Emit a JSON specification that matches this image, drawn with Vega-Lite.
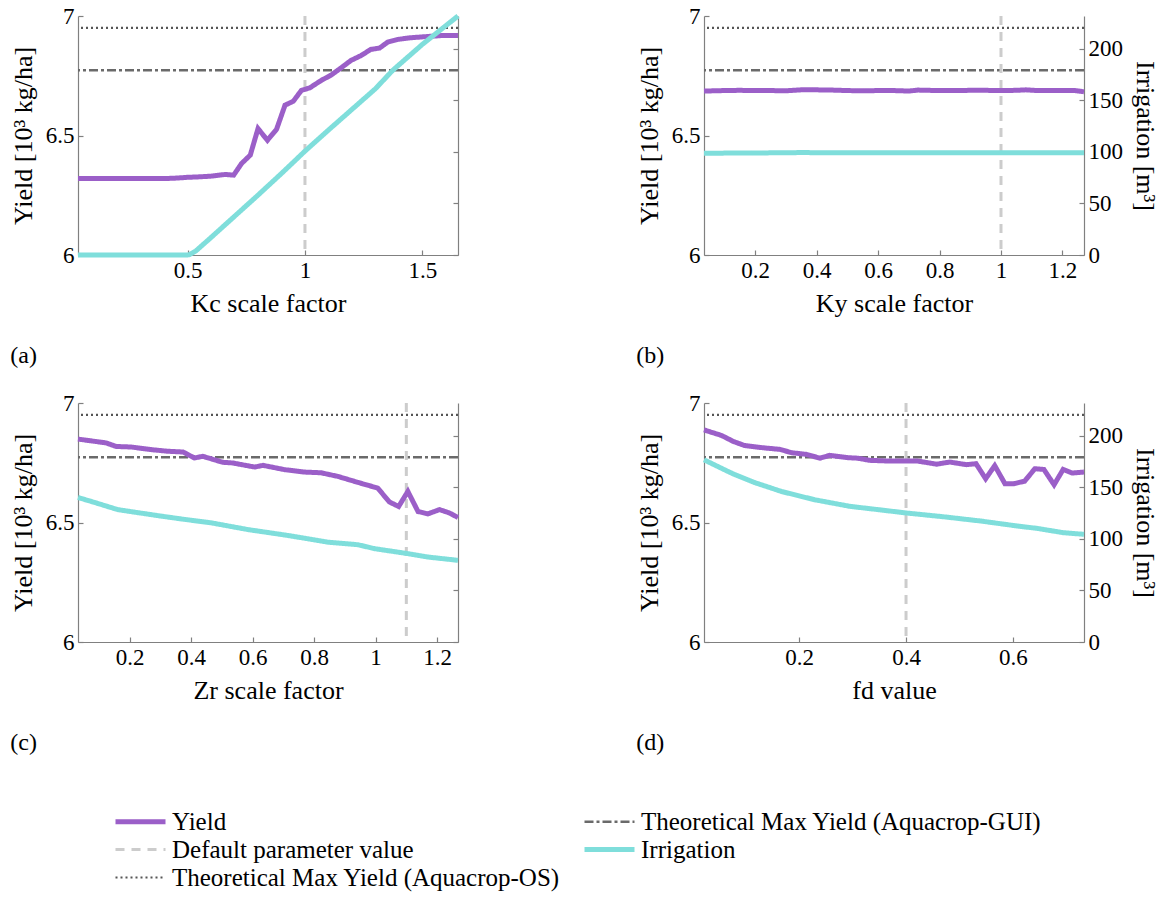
{
  "$schema": "https://vega.github.io/schema/vega-lite/v6.json",
  "background": "white",
  "padding": {"left": 10, "top": 5, "right": 2, "bottom": 5},
  "config": {
    "font": "Liberation Serif",
    "view": {"stroke": null},
    "axis": {
      "labelFont": "Liberation Serif", "titleFont": "Liberation Serif",
      "labelFontSize": 23, "titleFontSize": 26, "titleFontWeight": "normal",
      "labelColor": "black", "titleColor": "black",
      "domainColor": "#808080", "tickColor": "#808080", "domainWidth": 1.2, "tickWidth": 1.2,
      "tickSize": -5, "labelPadding": 9, "grid": false, "titlePadding": 9
    },
    "axisX": {"titlePadding": 8},
    "title": {"font": "Liberation Serif", "fontSize": 24, "fontWeight": "normal", "color": "black"}
  },
  "data": {"values": [
    {"p":"a","s":"Yield","x":0.033,"v":6.320},{"p":"a","s":"Yield","x":0.1,"v":6.320},{"p":"a","s":"Yield","x":0.2,"v":6.320},{"p":"a","s":"Yield","x":0.3,"v":6.320},{"p":"a","s":"Yield","x":0.4,"v":6.320},{"p":"a","s":"Yield","x":0.44,"v":6.321},{"p":"a","s":"Yield","x":0.5,"v":6.325},{"p":"a","s":"Yield","x":0.55,"v":6.327},{"p":"a","s":"Yield","x":0.6,"v":6.330},{"p":"a","s":"Yield","x":0.66,"v":6.337},{"p":"a","s":"Yield","x":0.696,"v":6.334},{"p":"a","s":"Yield","x":0.73,"v":6.383},{"p":"a","s":"Yield","x":0.767,"v":6.418},{"p":"a","s":"Yield","x":0.8,"v":6.529},{"p":"a","s":"Yield","x":0.84,"v":6.48},{"p":"a","s":"Yield","x":0.879,"v":6.526},{"p":"a","s":"Yield","x":0.915,"v":6.627},{"p":"a","s":"Yield","x":0.95,"v":6.643},{"p":"a","s":"Yield","x":0.985,"v":6.689},{"p":"a","s":"Yield","x":1.02,"v":6.699},{"p":"a","s":"Yield","x":1.07,"v":6.731},{"p":"a","s":"Yield","x":1.11,"v":6.752},{"p":"a","s":"Yield","x":1.154,"v":6.783},{"p":"a","s":"Yield","x":1.196,"v":6.814},{"p":"a","s":"Yield","x":1.24,"v":6.835},{"p":"a","s":"Yield","x":1.28,"v":6.86},{"p":"a","s":"Yield","x":1.318,"v":6.866},{"p":"a","s":"Yield","x":1.353,"v":6.891},{"p":"a","s":"Yield","x":1.395,"v":6.902},{"p":"a","s":"Yield","x":1.45,"v":6.909},{"p":"a","s":"Yield","x":1.52,"v":6.914},{"p":"a","s":"Yield","x":1.58,"v":6.918},{"p":"a","s":"Yield","x":1.652,"v":6.918},
    {"p":"a","s":"Irrigation","x":0.033,"v":0},{"p":"a","s":"Irrigation","x":0.3,"v":0},{"p":"a","s":"Irrigation","x":0.5,"v":0},{"p":"a","s":"Irrigation","x":0.51,"v":0.5},{"p":"a","s":"Irrigation","x":0.535,"v":3.9},{"p":"a","s":"Irrigation","x":0.6,"v":17},{"p":"a","s":"Irrigation","x":0.7,"v":37.5},{"p":"a","s":"Irrigation","x":0.8,"v":58},{"p":"a","s":"Irrigation","x":0.9,"v":79},{"p":"a","s":"Irrigation","x":1.0,"v":100.6},{"p":"a","s":"Irrigation","x":1.1,"v":121},{"p":"a","s":"Irrigation","x":1.2,"v":141},{"p":"a","s":"Irrigation","x":1.3,"v":161},{"p":"a","s":"Irrigation","x":1.374,"v":178.9},{"p":"a","s":"Irrigation","x":1.5,"v":204},{"p":"a","s":"Irrigation","x":1.652,"v":231.5},
    {"p":"a","s":"Theoretical Max Yield (Aquacrop-OS)","v":6.95},{"p":"a","s":"Theoretical Max Yield (Aquacrop-GUI)","v":6.773},{"p":"a","s":"Default parameter value","x":1.0},
    {"p":"b","s":"Yield","x":0.034,"v":6.686},{"p":"b","s":"Yield","x":0.1,"v":6.688},{"p":"b","s":"Yield","x":0.15,"v":6.689},{"p":"b","s":"Yield","x":0.2,"v":6.688},{"p":"b","s":"Yield","x":0.25,"v":6.688},{"p":"b","s":"Yield","x":0.3,"v":6.687},{"p":"b","s":"Yield","x":0.35,"v":6.691},{"p":"b","s":"Yield","x":0.4,"v":6.691},{"p":"b","s":"Yield","x":0.45,"v":6.690},{"p":"b","s":"Yield","x":0.5,"v":6.688},{"p":"b","s":"Yield","x":0.55,"v":6.687},{"p":"b","s":"Yield","x":0.6,"v":6.688},{"p":"b","s":"Yield","x":0.65,"v":6.688},{"p":"b","s":"Yield","x":0.7,"v":6.686},{"p":"b","s":"Yield","x":0.73,"v":6.690},{"p":"b","s":"Yield","x":0.8,"v":6.688},{"p":"b","s":"Yield","x":0.85,"v":6.688},{"p":"b","s":"Yield","x":0.9,"v":6.689},{"p":"b","s":"Yield","x":0.95,"v":6.689},{"p":"b","s":"Yield","x":1.0,"v":6.688},{"p":"b","s":"Yield","x":1.05,"v":6.689},{"p":"b","s":"Yield","x":1.08,"v":6.691},{"p":"b","s":"Yield","x":1.12,"v":6.688},{"p":"b","s":"Yield","x":1.2,"v":6.688},{"p":"b","s":"Yield","x":1.24,"v":6.688},{"p":"b","s":"Yield","x":1.27,"v":6.683},
    {"p":"b","s":"Irrigation","x":0.034,"v":98.6},{"p":"b","s":"Irrigation","x":0.2,"v":98.8},{"p":"b","s":"Irrigation","x":0.35,"v":99.2},{"p":"b","s":"Irrigation","x":0.5,"v":99.0},{"p":"b","s":"Irrigation","x":0.7,"v":99.0},{"p":"b","s":"Irrigation","x":0.9,"v":99.0},{"p":"b","s":"Irrigation","x":1.1,"v":99.0},{"p":"b","s":"Irrigation","x":1.27,"v":99.0},
    {"p":"b","s":"Theoretical Max Yield (Aquacrop-OS)","v":6.95},{"p":"b","s":"Theoretical Max Yield (Aquacrop-GUI)","v":6.773},{"p":"b","s":"Default parameter value","x":1.0},
    {"p":"c","s":"Yield","x":0.0325,"v":6.849},{"p":"c","s":"Yield","x":0.124,"v":6.833},{"p":"c","s":"Yield","x":0.157,"v":6.818},{"p":"c","s":"Yield","x":0.205,"v":6.816},{"p":"c","s":"Yield","x":0.27,"v":6.805},{"p":"c","s":"Yield","x":0.325,"v":6.798},{"p":"c","s":"Yield","x":0.374,"v":6.795},{"p":"c","s":"Yield","x":0.411,"v":6.77},{"p":"c","s":"Yield","x":0.438,"v":6.777},{"p":"c","s":"Yield","x":0.503,"v":6.752},{"p":"c","s":"Yield","x":0.536,"v":6.749},{"p":"c","s":"Yield","x":0.607,"v":6.732},{"p":"c","s":"Yield","x":0.634,"v":6.739},{"p":"c","s":"Yield","x":0.705,"v":6.721},{"p":"c","s":"Yield","x":0.769,"v":6.711},{"p":"c","s":"Yield","x":0.823,"v":6.708},{"p":"c","s":"Yield","x":0.877,"v":6.693},{"p":"c","s":"Yield","x":0.942,"v":6.668},{"p":"c","s":"Yield","x":1.007,"v":6.644},{"p":"c","s":"Yield","x":1.045,"v":6.586},{"p":"c","s":"Yield","x":1.075,"v":6.567},{"p":"c","s":"Yield","x":1.105,"v":6.63},{"p":"c","s":"Yield","x":1.138,"v":6.546},{"p":"c","s":"Yield","x":1.17,"v":6.536},{"p":"c","s":"Yield","x":1.208,"v":6.554},{"p":"c","s":"Yield","x":1.24,"v":6.54},{"p":"c","s":"Yield","x":1.268,"v":6.521},
    {"p":"c","s":"Irrigation","x":0.0325,"v":140},{"p":"c","s":"Irrigation","x":0.086,"v":135.2},{"p":"c","s":"Irrigation","x":0.162,"v":128.2},{"p":"c","s":"Irrigation","x":0.292,"v":122.4},{"p":"c","s":"Irrigation","x":0.368,"v":119.2},{"p":"c","s":"Irrigation","x":0.466,"v":115.4},{"p":"c","s":"Irrigation","x":0.585,"v":108.9},{"p":"c","s":"Irrigation","x":0.715,"v":103.2},{"p":"c","s":"Irrigation","x":0.845,"v":96.7},{"p":"c","s":"Irrigation","x":0.943,"v":94.2},{"p":"c","s":"Irrigation","x":0.997,"v":90.4},{"p":"c","s":"Irrigation","x":1.105,"v":85.6},{"p":"c","s":"Irrigation","x":1.17,"v":82.3},{"p":"c","s":"Irrigation","x":1.268,"v":79.1},
    {"p":"c","s":"Theoretical Max Yield (Aquacrop-OS)","v":6.95},{"p":"c","s":"Theoretical Max Yield (Aquacrop-GUI)","v":6.773},{"p":"c","s":"Default parameter value","x":1.1},
    {"p":"d","s":"Yield","x":0.022,"v":6.8875},{"p":"d","s":"Yield","x":0.055,"v":6.864},{"p":"d","s":"Yield","x":0.077,"v":6.839},{"p":"d","s":"Yield","x":0.098,"v":6.822},{"p":"d","s":"Yield","x":0.133,"v":6.8125},{"p":"d","s":"Yield","x":0.164,"v":6.806},{"p":"d","s":"Yield","x":0.186,"v":6.792},{"p":"d","s":"Yield","x":0.214,"v":6.785},{"p":"d","s":"Yield","x":0.239,"v":6.769},{"p":"d","s":"Yield","x":0.257,"v":6.781},{"p":"d","s":"Yield","x":0.292,"v":6.771},{"p":"d","s":"Yield","x":0.31,"v":6.769},{"p":"d","s":"Yield","x":0.332,"v":6.76},{"p":"d","s":"Yield","x":0.369,"v":6.757},{"p":"d","s":"Yield","x":0.422,"v":6.757},{"p":"d","s":"Yield","x":0.457,"v":6.744},{"p":"d","s":"Yield","x":0.482,"v":6.753},{"p":"d","s":"Yield","x":0.513,"v":6.742},{"p":"d","s":"Yield","x":0.531,"v":6.746},{"p":"d","s":"Yield","x":0.549,"v":6.683},{"p":"d","s":"Yield","x":0.566,"v":6.738},{"p":"d","s":"Yield","x":0.585,"v":6.6625},{"p":"d","s":"Yield","x":0.602,"v":6.6625},{"p":"d","s":"Yield","x":0.622,"v":6.673},{"p":"d","s":"Yield","x":0.641,"v":6.725},{"p":"d","s":"Yield","x":0.658,"v":6.722},{"p":"d","s":"Yield","x":0.677,"v":6.658},{"p":"d","s":"Yield","x":0.694,"v":6.722},{"p":"d","s":"Yield","x":0.711,"v":6.707},{"p":"d","s":"Yield","x":0.733,"v":6.711},
    {"p":"d","s":"Irrigation","x":0.022,"v":176.5},{"p":"d","s":"Irrigation","x":0.049,"v":169.7},{"p":"d","s":"Irrigation","x":0.077,"v":162.7},{"p":"d","s":"Irrigation","x":0.117,"v":154.4},{"p":"d","s":"Irrigation","x":0.167,"v":145.8},{"p":"d","s":"Irrigation","x":0.229,"v":137.8},{"p":"d","s":"Irrigation","x":0.295,"v":131.4},{"p":"d","s":"Irrigation","x":0.348,"v":128.2},{"p":"d","s":"Irrigation","x":0.4,"v":125},{"p":"d","s":"Irrigation","x":0.472,"v":121.2},{"p":"d","s":"Irrigation","x":0.541,"v":117.1},{"p":"d","s":"Irrigation","x":0.609,"v":112.3},{"p":"d","s":"Irrigation","x":0.646,"v":110},{"p":"d","s":"Irrigation","x":0.694,"v":105.9},{"p":"d","s":"Irrigation","x":0.733,"v":104.3},
    {"p":"d","s":"Theoretical Max Yield (Aquacrop-OS)","v":6.95},{"p":"d","s":"Theoretical Max Yield (Aquacrop-GUI)","v":6.773},{"p":"d","s":"Default parameter value","x":0.4}
  ]},
  "spacing": 24,
  "vconcat": [
    {"spacing": 168, "hconcat": [
      {"width": 380, "height": 239,
       "title": {"text": "(a)", "orient": "bottom", "anchor": "start", "frame": "bounds", "offset": 28},
       "transform": [{"filter": "datum.p === 'a'"}],
       "encoding": {
         "color": {"field": "s", "type": "nominal", "scale": {"domain": ["Yield", "Default parameter value", "Theoretical Max Yield (Aquacrop-OS)", "Theoretical Max Yield (Aquacrop-GUI)", "Irrigation"], "range": ["#9B5FC8", "#cccccc", "#555555", "#6a6a6a", "#7FDEDB"]},
           "legend": {"orient": "none", "legendX": 35, "legendY": 793, "columns": 2, "title": null, "symbolType": "M-5,0H5", "symbolSize": 100, "symbolOffset": 15, "labelFont": "Liberation Serif", "labelFontSize": 25, "labelColor": "black", "labelLimit": 0, "columnPadding": 13, "rowPadding": 2, "labelOffset": 19, "gridAlign": "each"}},
         "strokeDash": {"field": "s", "type": "nominal", "scale": {"domain": ["Yield", "Default parameter value", "Theoretical Max Yield (Aquacrop-OS)", "Theoretical Max Yield (Aquacrop-GUI)", "Irrigation"], "range": [[1, 0], [9, 7], [2, 3], [9, 3, 3, 3], [1, 0]]}},
         "strokeWidth": {"field": "s", "type": "nominal", "scale": {"type": "ordinal", "domain": ["Yield", "Default parameter value", "Theoretical Max Yield (Aquacrop-OS)", "Theoretical Max Yield (Aquacrop-GUI)", "Irrigation"], "range": [5, 3, 2.2, 2.5, 5]}}
       },
       "layer": [
         {"layer": [
           {"transform": [{"filter": "datum.s === 'Theoretical Max Yield (Aquacrop-OS)' || datum.s === 'Theoretical Max Yield (Aquacrop-GUI)'"}], "mark": "rule",
            "encoding": {"y": {"field": "v", "type": "quantitative", "scale": {"domain": [6, 7], "nice": false, "zero": false}, "axis": {"values": [6, 6.5, 7], "format": "~g", "title": "Yield [10³ kg/ha]"}}}},
           {"transform": [{"filter": "datum.s === 'Default parameter value'"}], "mark": "rule",
            "encoding": {"x": {"field": "x", "type": "quantitative", "scale": {"domain": [0.033, 1.652], "nice": false, "zero": false}, "axis": {"values": [0.5, 1, 1.5], "format": "~g", "title": "Kc scale factor"}}}},
           {"transform": [{"filter": "datum.s === 'Yield'"}], "mark": "line",
            "encoding": {"x": {"field": "x", "type": "quantitative", "scale": {"domain": [0.033, 1.652], "nice": false, "zero": false}, "axis": {"values": [0.5, 1, 1.5], "format": "~g", "title": "Kc scale factor"}},
              "y": {"field": "v", "type": "quantitative", "scale": {"domain": [6, 7], "nice": false, "zero": false}, "axis": {"values": [6, 6.5, 7], "format": "~g", "title": "Yield [10³ kg/ha]"}}}}
         ]},
         {"transform": [{"filter": "datum.s === 'Irrigation'"}], "mark": "line",
          "encoding": {"x": {"field": "x", "type": "quantitative", "scale": {"domain": [0.033, 1.652], "nice": false, "zero": false}, "axis": {"values": [0.5, 1, 1.5], "format": "~g", "title": "Kc scale factor"}},
            "y": {"field": "v", "type": "quantitative", "scale": {"domain": [0, 231.5], "nice": false}, "axis": {"orient": "right", "values": [0, 50, 100, 150, 200], "labels": false, "title": null}}}}
       ],
       "resolve": {"scale": {"y": "independent"}}
      },
      {"width": 380, "height": 239,
       "title": {"text": "(b)", "orient": "bottom", "anchor": "start", "frame": "bounds", "offset": 28},
       "transform": [{"filter": "datum.p === 'b'"}],
       "encoding": {
         "color": {"field": "s", "type": "nominal", "scale": {"domain": ["Yield", "Default parameter value", "Theoretical Max Yield (Aquacrop-OS)", "Theoretical Max Yield (Aquacrop-GUI)", "Irrigation"], "range": ["#9B5FC8", "#cccccc", "#555555", "#6a6a6a", "#7FDEDB"]}},
         "strokeDash": {"field": "s", "type": "nominal", "scale": {"domain": ["Yield", "Default parameter value", "Theoretical Max Yield (Aquacrop-OS)", "Theoretical Max Yield (Aquacrop-GUI)", "Irrigation"], "range": [[1, 0], [9, 7], [2, 3], [9, 3, 3, 3], [1, 0]]}},
         "strokeWidth": {"field": "s", "type": "nominal", "scale": {"type": "ordinal", "domain": ["Yield", "Default parameter value", "Theoretical Max Yield (Aquacrop-OS)", "Theoretical Max Yield (Aquacrop-GUI)", "Irrigation"], "range": [5, 3, 2.2, 2.5, 5]}}
       },
       "layer": [
         {"layer": [
           {"transform": [{"filter": "datum.s === 'Theoretical Max Yield (Aquacrop-OS)' || datum.s === 'Theoretical Max Yield (Aquacrop-GUI)'"}], "mark": "rule",
            "encoding": {"y": {"field": "v", "type": "quantitative", "scale": {"domain": [6, 7], "nice": false, "zero": false}, "axis": {"values": [6, 6.5, 7], "format": "~g", "title": "Yield [10³ kg/ha]"}}}},
           {"transform": [{"filter": "datum.s === 'Default parameter value'"}], "mark": "rule",
            "encoding": {"x": {"field": "x", "type": "quantitative", "scale": {"domain": [0.034, 1.27], "nice": false, "zero": false}, "axis": {"values": [0.2, 0.4, 0.6, 0.8, 1, 1.2], "format": "~g", "title": "Ky scale factor"}}}},
           {"transform": [{"filter": "datum.s === 'Yield'"}], "mark": "line",
            "encoding": {"x": {"field": "x", "type": "quantitative", "scale": {"domain": [0.034, 1.27], "nice": false, "zero": false}, "axis": {"values": [0.2, 0.4, 0.6, 0.8, 1, 1.2], "format": "~g", "title": "Ky scale factor"}},
              "y": {"field": "v", "type": "quantitative", "scale": {"domain": [6, 7], "nice": false, "zero": false}, "axis": {"values": [6, 6.5, 7], "format": "~g", "title": "Yield [10³ kg/ha]"}}}}
         ]},
         {"transform": [{"filter": "datum.s === 'Irrigation'"}], "mark": "line",
          "encoding": {"x": {"field": "x", "type": "quantitative", "scale": {"domain": [0.034, 1.27], "nice": false, "zero": false}, "axis": {"values": [0.2, 0.4, 0.6, 0.8, 1, 1.2], "format": "~g", "title": "Ky scale factor"}},
            "y": {"field": "v", "type": "quantitative", "scale": {"domain": [0, 231.5], "nice": false}, "axis": {"orient": "right", "values": [0, 50, 100, 150, 200], "title": "Irrigation [m³]"}}}}
       ],
       "resolve": {"scale": {"y": "independent"}}
      }
    ]},
    {"spacing": 168, "hconcat": [
      {"width": 380, "height": 239,
       "title": {"text": "(c)", "orient": "bottom", "anchor": "start", "frame": "bounds", "offset": 28},
       "transform": [{"filter": "datum.p === 'c'"}],
       "encoding": {
         "color": {"field": "s", "type": "nominal", "scale": {"domain": ["Yield", "Default parameter value", "Theoretical Max Yield (Aquacrop-OS)", "Theoretical Max Yield (Aquacrop-GUI)", "Irrigation"], "range": ["#9B5FC8", "#cccccc", "#555555", "#6a6a6a", "#7FDEDB"]}},
         "strokeDash": {"field": "s", "type": "nominal", "scale": {"domain": ["Yield", "Default parameter value", "Theoretical Max Yield (Aquacrop-OS)", "Theoretical Max Yield (Aquacrop-GUI)", "Irrigation"], "range": [[1, 0], [9, 7], [2, 3], [9, 3, 3, 3], [1, 0]]}},
         "strokeWidth": {"field": "s", "type": "nominal", "scale": {"type": "ordinal", "domain": ["Yield", "Default parameter value", "Theoretical Max Yield (Aquacrop-OS)", "Theoretical Max Yield (Aquacrop-GUI)", "Irrigation"], "range": [5, 3, 2.2, 2.5, 5]}}
       },
       "layer": [
         {"layer": [
           {"transform": [{"filter": "datum.s === 'Theoretical Max Yield (Aquacrop-OS)' || datum.s === 'Theoretical Max Yield (Aquacrop-GUI)'"}], "mark": "rule",
            "encoding": {"y": {"field": "v", "type": "quantitative", "scale": {"domain": [6, 7], "nice": false, "zero": false}, "axis": {"values": [6, 6.5, 7], "format": "~g", "title": "Yield [10³ kg/ha]"}}}},
           {"transform": [{"filter": "datum.s === 'Default parameter value'"}], "mark": "rule",
            "encoding": {"x": {"field": "x", "type": "quantitative", "scale": {"domain": [0.0325, 1.268], "nice": false, "zero": false}, "axis": {"values": [0.2, 0.4, 0.6, 0.8, 1, 1.2], "format": "~g", "title": "Zr scale factor"}}}},
           {"transform": [{"filter": "datum.s === 'Yield'"}], "mark": "line",
            "encoding": {"x": {"field": "x", "type": "quantitative", "scale": {"domain": [0.0325, 1.268], "nice": false, "zero": false}, "axis": {"values": [0.2, 0.4, 0.6, 0.8, 1, 1.2], "format": "~g", "title": "Zr scale factor"}},
              "y": {"field": "v", "type": "quantitative", "scale": {"domain": [6, 7], "nice": false, "zero": false}, "axis": {"values": [6, 6.5, 7], "format": "~g", "title": "Yield [10³ kg/ha]"}}}}
         ]},
         {"transform": [{"filter": "datum.s === 'Irrigation'"}], "mark": "line",
          "encoding": {"x": {"field": "x", "type": "quantitative", "scale": {"domain": [0.0325, 1.268], "nice": false, "zero": false}, "axis": {"values": [0.2, 0.4, 0.6, 0.8, 1, 1.2], "format": "~g", "title": "Zr scale factor"}},
            "y": {"field": "v", "type": "quantitative", "scale": {"domain": [0, 231.5], "nice": false}, "axis": {"orient": "right", "values": [0, 50, 100, 150, 200], "labels": false, "title": null}}}}
       ],
       "resolve": {"scale": {"y": "independent"}}
      },
      {"width": 380, "height": 239,
       "title": {"text": "(d)", "orient": "bottom", "anchor": "start", "frame": "bounds", "offset": 28},
       "transform": [{"filter": "datum.p === 'd'"}],
       "encoding": {
         "color": {"field": "s", "type": "nominal", "scale": {"domain": ["Yield", "Default parameter value", "Theoretical Max Yield (Aquacrop-OS)", "Theoretical Max Yield (Aquacrop-GUI)", "Irrigation"], "range": ["#9B5FC8", "#cccccc", "#555555", "#6a6a6a", "#7FDEDB"]}},
         "strokeDash": {"field": "s", "type": "nominal", "scale": {"domain": ["Yield", "Default parameter value", "Theoretical Max Yield (Aquacrop-OS)", "Theoretical Max Yield (Aquacrop-GUI)", "Irrigation"], "range": [[1, 0], [9, 7], [2, 3], [9, 3, 3, 3], [1, 0]]}},
         "strokeWidth": {"field": "s", "type": "nominal", "scale": {"type": "ordinal", "domain": ["Yield", "Default parameter value", "Theoretical Max Yield (Aquacrop-OS)", "Theoretical Max Yield (Aquacrop-GUI)", "Irrigation"], "range": [5, 3, 2.2, 2.5, 5]}}
       },
       "layer": [
         {"layer": [
           {"transform": [{"filter": "datum.s === 'Theoretical Max Yield (Aquacrop-OS)' || datum.s === 'Theoretical Max Yield (Aquacrop-GUI)'"}], "mark": "rule",
            "encoding": {"y": {"field": "v", "type": "quantitative", "scale": {"domain": [6, 7], "nice": false, "zero": false}, "axis": {"values": [6, 6.5, 7], "format": "~g", "title": "Yield [10³ kg/ha]"}}}},
           {"transform": [{"filter": "datum.s === 'Default parameter value'"}], "mark": "rule",
            "encoding": {"x": {"field": "x", "type": "quantitative", "scale": {"domain": [0.022, 0.733], "nice": false, "zero": false}, "axis": {"values": [0.2, 0.4, 0.6], "format": "~g", "title": "fd value"}}}},
           {"transform": [{"filter": "datum.s === 'Yield'"}], "mark": "line",
            "encoding": {"x": {"field": "x", "type": "quantitative", "scale": {"domain": [0.022, 0.733], "nice": false, "zero": false}, "axis": {"values": [0.2, 0.4, 0.6], "format": "~g", "title": "fd value"}},
              "y": {"field": "v", "type": "quantitative", "scale": {"domain": [6, 7], "nice": false, "zero": false}, "axis": {"values": [6, 6.5, 7], "format": "~g", "title": "Yield [10³ kg/ha]"}}}}
         ]},
         {"transform": [{"filter": "datum.s === 'Irrigation'"}], "mark": "line",
          "encoding": {"x": {"field": "x", "type": "quantitative", "scale": {"domain": [0.022, 0.733], "nice": false, "zero": false}, "axis": {"values": [0.2, 0.4, 0.6], "format": "~g", "title": "fd value"}},
            "y": {"field": "v", "type": "quantitative", "scale": {"domain": [0, 231.5], "nice": false}, "axis": {"orient": "right", "values": [0, 50, 100, 150, 200], "title": "Irrigation [m³]"}}}}
       ],
       "resolve": {"scale": {"y": "independent"}}
      }
    ]}
  ]
}
